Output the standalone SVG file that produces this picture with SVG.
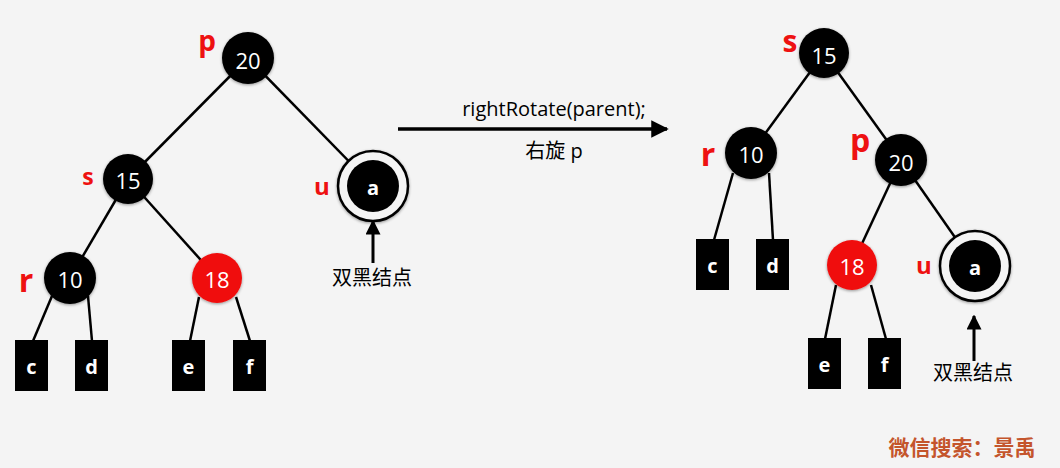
<svg xmlns="http://www.w3.org/2000/svg" width="1060" height="468" viewBox="0 0 1060 468">
<defs>
<style>
.bg{fill:#f4f4f4}
.edge{stroke:#000;stroke-width:2.5;fill:none}
.blk{fill:#000}
.red{fill:#f01010}
.ring{fill:#f4f4f4;stroke:#000;stroke-width:2.5}
.num{fill:#fff;font-family:"Open Sans","Noto Sans",sans-serif;font-size:22px;text-anchor:middle;dominant-baseline:central}
.leaf{fill:#fff;font-family:"Open Sans","Noto Sans",sans-serif;font-weight:bold;font-size:20px;text-anchor:middle;dominant-baseline:central}
.lbl{fill:#ee1111;font-family:"Open Sans","Noto Sans",sans-serif;font-weight:bold;text-anchor:middle}
.cap{fill:#000;font-family:"Open Sans","Noto Sans","Noto Sans CJK SC",sans-serif;font-size:20px;text-anchor:middle}
.cjk{fill:#000;font-family:"Noto Sans CJK SC",sans-serif;font-size:20px;text-anchor:middle}
.wm{fill:#c4552c;font-family:"Noto Sans CJK SC",serif;font-weight:bold;font-size:21px;text-anchor:middle}
</style>
<marker id="ah" viewBox="0 0 10 10" refX="9" refY="5" markerWidth="5" markerHeight="5" orient="auto" markerUnits="strokeWidth">
<path d="M0,0 L10,5 L0,10 Z" fill="#000"/>
</marker>
<filter id="sh" x="-30%" y="-30%" width="160%" height="160%">
<feGaussianBlur in="SourceAlpha" stdDeviation="1.5"/>
<feOffset dx="0" dy="1"/>
<feComponentTransfer><feFuncA type="linear" slope="0.4"/></feComponentTransfer>
<feMerge><feMergeNode/><feMergeNode in="SourceGraphic"/></feMerge>
</filter>
</defs>
<rect class="bg" x="0" y="0" width="1060" height="468"/>

<g id="connectors">
<line class="edge" x1="248" y1="58" x2="128" y2="179"/>
<line class="edge" x1="248" y1="58" x2="373" y2="186"/>
<line class="edge" x1="128" y1="179" x2="70" y2="278"/>
<line class="edge" x1="128" y1="179" x2="217" y2="278"/>
<line class="edge" x1="52" y1="296" x2="33" y2="341"/>
<line class="edge" x1="88" y1="296" x2="92" y2="341"/>
<line class="edge" x1="199" y1="297" x2="190" y2="341"/>
<line class="edge" x1="236" y1="297" x2="250" y2="341"/>
<line class="edge" x1="824" y1="53" x2="751" y2="153"/>
<line class="edge" x1="824" y1="53" x2="901" y2="160"/>
<line class="edge" x1="901" y1="160" x2="852" y2="265"/>
<line class="edge" x1="901" y1="160" x2="975" y2="266"/>
<line class="edge" x1="733" y1="173" x2="714" y2="240"/>
<line class="edge" x1="769" y1="173" x2="773" y2="240"/>
<line class="edge" x1="836" y1="285" x2="825" y2="339"/>
<line class="edge" x1="871" y1="285" x2="886" y2="339"/>
<line x1="398" y1="129" x2="667" y2="129" stroke="#000" stroke-width="3.5" marker-end="url(#ah)"/>
<line x1="373" y1="263" x2="373" y2="221" stroke="#000" stroke-width="3" marker-end="url(#ah)"/>
<line x1="974" y1="361" x2="974" y2="316" stroke="#000" stroke-width="3" marker-end="url(#ah)"/>
</g>

<g id="left-p"><circle class="blk" cx="248" cy="58" r="26" filter="url(#sh)"/><text class="num" x="248" y="60">20</text><text class="lbl" x="207" y="51" font-size="28">p</text></g>
<g id="left-s"><circle class="blk" cx="128" cy="179" r="25" filter="url(#sh)"/><text class="num" x="128" y="180">15</text><text class="lbl" x="88" y="185" font-size="23">s</text></g>
<g id="left-u"><circle class="ring" cx="373" cy="186" r="35" filter="url(#sh)"/><circle class="blk" cx="373" cy="186" r="26"/><text class="leaf" x="373" y="187">a</text><text class="lbl" x="322" y="195" font-size="24">u</text></g>
<g id="left-r"><circle class="blk" cx="70" cy="278" r="26" filter="url(#sh)"/><text class="num" x="70" y="279">10</text><text class="lbl" x="26" y="292" font-size="32">r</text></g>
<g id="left-18"><circle class="red" cx="217" cy="278" r="25" filter="url(#sh)"/><text class="num" x="217" y="279">18</text></g>
<g id="left-c"><rect class="blk" x="15" y="340" width="33" height="51"/><text class="leaf" x="31.5" y="366">c</text></g>
<g id="left-d"><rect class="blk" x="75" y="340" width="33" height="51"/><text class="leaf" x="91.5" y="366">d</text></g>
<g id="left-e"><rect class="blk" x="172" y="340" width="33" height="51"/><text class="leaf" x="188.5" y="366">e</text></g>
<g id="left-f"><rect class="blk" x="233" y="340" width="33" height="51"/><text class="leaf" x="249.5" y="366">f</text></g>
<g id="left-note"><text class="cjk" x="372" y="285">双黑结点</text></g>

<g id="op"><text class="cap" x="554" y="116">rightRotate(parent);</text><text class="cap" x="554" y="158">右旋 p</text></g>

<g id="right-s"><circle class="blk" cx="824" cy="53" r="25" filter="url(#sh)"/><text class="num" x="824" y="55">15</text><text class="lbl" x="790" y="52" font-size="30">s</text></g>
<g id="right-r"><circle class="blk" cx="751" cy="153" r="26" filter="url(#sh)"/><text class="num" x="751" y="154">10</text><text class="lbl" x="708" y="166" font-size="32">r</text></g>
<g id="right-p"><circle class="blk" cx="901" cy="160" r="26" filter="url(#sh)"/><text class="num" x="901" y="162">20</text><text class="lbl" x="860" y="152" font-size="32">p</text></g>
<g id="right-18"><circle class="red" cx="852" cy="265" r="25" filter="url(#sh)"/><text class="num" x="852" y="266">18</text></g>
<g id="right-u"><circle class="ring" cx="975" cy="266" r="35" filter="url(#sh)"/><circle class="blk" cx="975" cy="266" r="26"/><text class="leaf" x="975" y="267">a</text><text class="lbl" x="924" y="274" font-size="24">u</text></g>
<g id="right-c"><rect class="blk" x="696" y="239" width="33" height="51"/><text class="leaf" x="712.5" y="265">c</text></g>
<g id="right-d"><rect class="blk" x="756" y="239" width="33" height="51"/><text class="leaf" x="772.5" y="265">d</text></g>
<g id="right-e"><rect class="blk" x="808" y="338" width="33" height="51"/><text class="leaf" x="824.5" y="364">e</text></g>
<g id="right-f"><rect class="blk" x="868" y="338" width="33" height="51"/><text class="leaf" x="884.5" y="364">f</text></g>
<g id="right-note"><text class="cjk" x="973" y="380">双黑结点</text></g>

<text class="wm" x="962" y="455">微信搜索：景禹</text>
</svg>
